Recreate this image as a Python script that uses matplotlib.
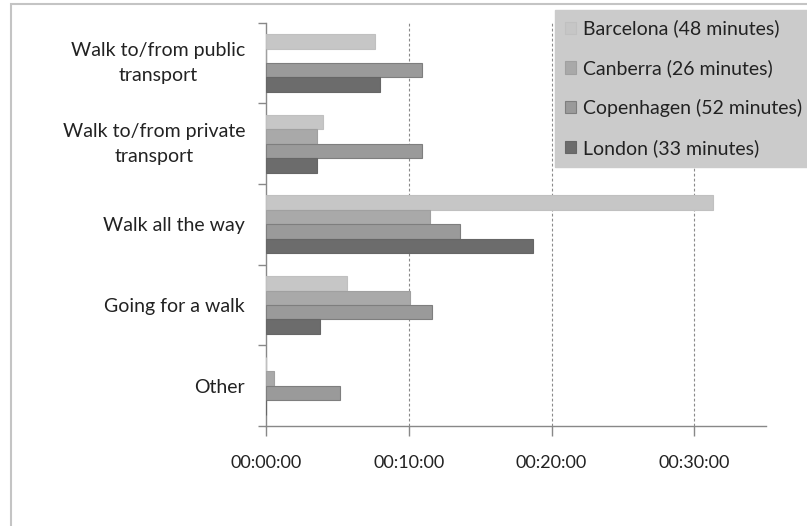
import matplotlib.pyplot as plt
import numpy as np
from matplotlib.patches import Rectangle
from matplotlib.ticker import FuncFormatter, FixedLocator

# data (minutes spent walking)
categories = [
    "Walk to/from public\ntransport",
    "Walk to/from private\ntransport",
    "Walk all the way",
    "Going for a walk",
    "Other",
]
series_names = [
    "Barcelona (48 minutes)",
    "Canberra (26 minutes)",
    "Copenhagen (52 minutes)",
    "London (33 minutes)",
]
barcelona = [7.6, 4.0, 31.3, 5.7, 0.0]
canberra = [0.0, 3.6, 11.5, 10.1, 0.55]
copenhagen = [10.9, 10.95, 13.6, 11.65, 5.2]
london = [8.0, 3.6, 18.7, 3.8, 0.0]
x_ticks = [0, 10, 20, 30]

colors = ["#c6c6c6", "#a9a9a9", "#9a9a9a", "#6c6c6c"]
edges = ["#c0c0c0", "#a0a0a0", "#7e7e7e", "#666666"]

plt.rcParams["font.family"] = ["Lato", "DejaVu Sans"]

fig = plt.figure(figsize=(8.07, 5.26), dpi=100)
ax = fig.add_axes([266 / 807, 1 - 426 / 526, (765.7 - 266) / 807, (426 - 22.7) / 526])

# outer chart frame (only top/left visible in the crop)
fig.patches.append(Rectangle((11 / 807, -0.2), 2.0, 1.2 - 4 / 526,
                             transform=fig.transFigure, fill=False,
                             edgecolor="#c4c4c4", linewidth=1.5, zorder=0))

y = np.arange(len(categories))
bar_h = 0.179
all_series = [barcelona, canberra, copenhagen, london]
for k, (vals, name) in enumerate(zip(all_series, series_names)):
    ax.barh(y + (k - 1.5) * bar_h, vals, height=bar_h, color=colors[k],
            edgecolor=edges[k], linewidth=0.8, label=name, zorder=3)

ax.set_xlim(0, 35)
ax.set_ylim(len(categories) - 0.5, -0.5)

ax.xaxis.set_major_locator(FixedLocator(x_ticks))
ax.xaxis.set_major_formatter(FuncFormatter(lambda v, p: f"00:{int(v):02d}:00"))
ax.tick_params(axis="x", length=7, width=1, color="#888888", pad=14,
               labelsize=13, labelcolor="#222222")
for xv in x_ticks[1:]:
    ax.axvline(xv, color="#8a8a8a", linestyle=(0, (2.5, 2)), linewidth=0.8, zorder=1)

ax.set_yticks(y)
ax.set_yticklabels(categories, ha="right", multialignment="center", linespacing=1.55)
for lbl in ax.get_yticklabels():
    if "\n" in lbl.get_text():
        lbl.set_va("center")
ax.set_yticks(np.arange(-0.5, len(categories)), minor=True)
ax.tick_params(axis="y", which="major", length=0, pad=15,
               labelsize=14, labelcolor="#222222")
ax.tick_params(axis="y", which="minor", length=6, width=1, color="#888888")

for side in ["top", "right"]:
    ax.spines[side].set_visible(False)
for side in ["left", "bottom"]:
    ax.spines[side].set_color("#888888")
    ax.spines[side].set_linewidth(1)

leg = fig.legend(loc="upper left", bbox_to_anchor=(555 / 807, 1 - 10 / 526),
                 frameon=True, fancybox=False, facecolor="#cbcbcb",
                 edgecolor="#cbcbcb", framealpha=1, fontsize=14,
                 handlelength=0.6, handleheight=0.6, handletextpad=0.35,
                 labelspacing=1.12, borderpad=0.5, borderaxespad=0)
for t in leg.get_texts():
    t.set_color("#222222")

fig.savefig("out.png", dpi=100)
